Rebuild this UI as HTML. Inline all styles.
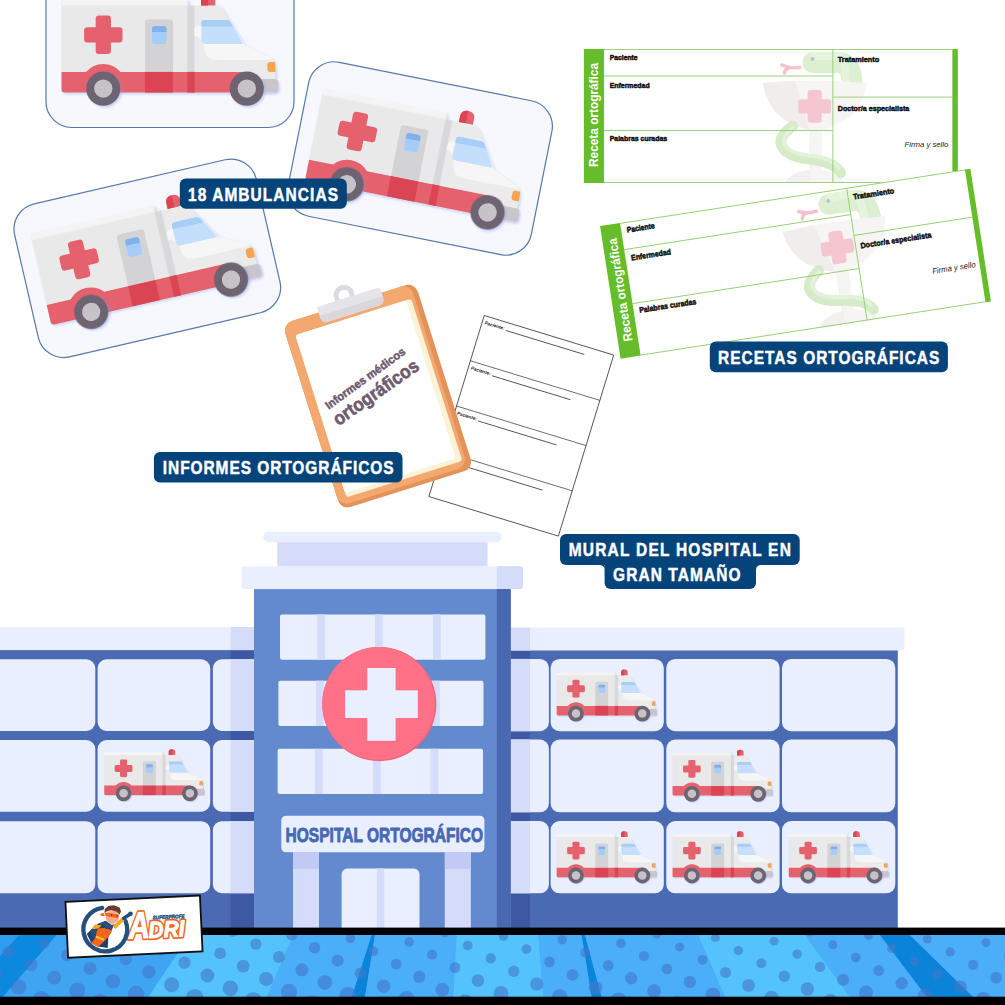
<!DOCTYPE html>
<html lang="es">
<head>
<meta charset="utf-8">
<title>Hospital Ortográfico</title>
<style>
html,body{margin:0;padding:0;background:#fff;}
body{width:1005px;height:1005px;overflow:hidden;font-family:"Liberation Sans",sans-serif;}
svg{display:block;}
.lbl{font-family:"Liberation Sans",sans-serif;font-weight:bold;fill:#fff;stroke:#fff;stroke-width:.45px;}
.rt{font-family:"Liberation Sans",sans-serif;font-weight:bold;fill:#111;font-size:7.8px;stroke:#111;stroke-width:.5px;stroke-linejoin:round;}
</style>
</head>
<body>
<svg width="1005" height="1005" viewBox="0 0 1005 1005">
<defs>
<filter id="sh" x="-10%" y="-10%" width="125%" height="125%">
  <feDropShadow dx="1.6" dy="1.6" stdDeviation="0.9" flood-color="#8a9be6" flood-opacity=".45"/>
</filter>
<!-- AMBULANCE (origin = card centre) -->
<g id="amb">
  <g filter="url(#sh)">
  <rect x="-108.5" y="-50" width="127" height="93.5" rx="3" fill="#e9e9e9"/>
  <path d="M-108.5,-43.5V-47a3,3 0 0 1 3,-3H14.4a3,3 0 0 1 3,3v3.5z" fill="#f4f4f4"/>
  <rect x="17.4" y="-43.5" width="7.2" height="87" fill="#d8d8da"/>
  <path d="M24.4,-43.5H46.5Q50.5,-43.5 52.5,-40L74.5,-4.4 99,7.5Q105.2,10.5 105.2,17V43.5H24.4z" fill="#ebebeb"/>
  <path d="M86,29.9H104.500a3.500,3.500 0 0 1 3.500,3.500V40a3.500,3.500 0 0 1 -3.500,3.500H86z" fill="#c9c5ca"/>
  </g>
  <path d="M24.4,-19Q24.4,-23 28.4,-23H62L74.5,-4.4 99,7.5Q102.5,9 103.6,10.9H47Q36,10.9 34.6,1Q33.5,-12 24.4,-13.5z" fill="#f6f6f6"/>
  <path d="M34.4,-29H56.5Q59.2,-29 60.6,-26.6L73.1,-5H35.4Q31.4,-5 31.4,-9V-26Q31.4,-29 34.4,-29z" fill="#c3dffc"/>
  <path d="M34.4,-29H56.5Q59.2,-29 60.6,-26.6L63,-22.5H31.4V-26Q31.4,-29 34.4,-29z" fill="#a8cdf6"/>
  <path d="M31,-43.5V-50a6,6 0 0 1 6,-6h2.3a6,6 0 0 1 6,6v6.5z" fill="#e5616d"/>
  <path d="M31,-43.5V-50a6,6 0 0 1 6,-6h1.1v12.5z" fill="#da4453"/>
  <!-- stripe -->
  <path d="M-108.5,22.9H-84a23,23 0 0 1 34.6,0H78V43.5H-105.5a3,3 0 0 1 -3,-3z" fill="#e5616d"/>
  <!-- door -->
  <path d="M-25,22.9V-26.5a3,3 0 0 1 3,-3H0a3,3 0 0 1 3,3V22.9z" fill="#d3d3d6"/>
  <rect x="-25" y="22.9" width="28" height="20.6" fill="#da4453"/>
  <rect x="17.4" y="22.9" width="7.2" height="20.6" fill="#da4453"/>
  <rect x="-18" y="-23" width="14.5" height="18" rx="3" fill="#a6ccf9"/>
  <path d="M-18,-17V-20a3,3 0 0 1 3,-3h8.5a3,3 0 0 1 3,3v3z" fill="#82b1ea"/>
  <!-- cross -->
  <rect x="-85.9" y="-21.85" width="38.4" height="15.3" rx="3.2" fill="#e5616d"/>
  <rect x="-74.35" y="-33.4" width="15.3" height="38.4" rx="3.2" fill="#e5616d"/>
  <!-- headlight -->
  <path d="M100.4,12.9H104.6Q105.2,14.5 105.2,17V22.9H100.4a3,3 0 0 1 -3,-3v-4a3,3 0 0 1 3,-3z" fill="#f9a44c"/>
  <!-- wheels -->
  <g filter="url(#sh)">
  <circle cx="-66.7" cy="39.6" r="17.1" fill="#6e6470"/>
  <circle cx="76.8" cy="39.6" r="17.1" fill="#6e6470"/>
  </g>
  <circle cx="-66.7" cy="39.6" r="9.2" fill="#c6c2c7"/>
  <circle cx="76.8" cy="39.6" r="9.2" fill="#c6c2c7"/>
</g>
<g id="card">
  <rect x="-124" y="-78.5" width="248" height="157" rx="26" fill="#f6f8fe" stroke="#5479ae" stroke-width="1.200"/>
  <use href="#amb"/>
</g>
<!-- RECETA (origin = centre, 374x134) -->
<g id="receta">
  <rect x="-187" y="-67" width="374" height="134" fill="#fff"/>
  <!-- watermark -->
  <g>
    <path d="M42,-53.6H66Q81,-53.6 81,-34" fill="none" stroke="#ddefd1" stroke-width="21" stroke-linecap="round"/>
    <path d="M44,-60H66Q75,-60 75,-34" fill="none" stroke="#e6f3dd" stroke-width="8" stroke-linecap="round"/>
    <path d="M29,-48.5Q20,-47 11,-51M19,-48.5Q14,-47 13.5,-43" fill="none" stroke="#f4c2cb" stroke-width="3.4" stroke-linecap="round"/>
    <circle cx="41.8" cy="-57" r="2" fill="#b9c0d8"/>
    <path d="M-8,-33Q-2,5 38.5,14V54Q20,56 14,67H74Q68,56 51,54V14Q90,5 96,-33Q44,-38 -8,-33z" fill="#f7f4f4"/>
    <path d="M-8,-33Q-2,5 38.5,14L24,-35Q8,-34.5 -8,-33z" fill="#f2eded"/>
    <path d="M38.5,14V54Q20,56 14,67H40z" fill="#f2eded" opacity=".6"/>
    <path d="M22,10Q5,22 12,32Q18,42 45,44Q64,47 70,57" fill="none" stroke="#d6ebc8" stroke-width="10.5" stroke-linecap="round"/>
    <path d="M22,12Q9,22 15,30Q20,38 45,40.500Q62,43 68,52" fill="none" stroke="#e3f2da" stroke-width="4" stroke-linecap="round"/>
    <rect x="27.4" y="-16.7" width="32.8" height="14.2" rx="3" fill="#f4c6cf"/>
    <rect x="36.7" y="-26" width="14.2" height="32.8" rx="3" fill="#f4c6cf"/>
  </g>
  <rect x="-187" y="-67" width="20.2" height="134" fill="#65bd29"/>
  <rect x="181.5" y="-67" width="5.5" height="134" fill="#65bd29"/>
  <g stroke="#8fcf6d" stroke-width=".9" fill="none">
    <path d="M-167,-66.5H181.500M-167,66.500H181.500M62,-67V67M-167,-40H62M-167,14.500H62M62,-18.900H181.500"/>
  </g>
  <text class="rt" x="-161.200" y="-56.400" textLength="28" lengthAdjust="spacingAndGlyphs">Paciente</text>
  <text class="rt" x="-161.200" y="-28.200" textLength="40" lengthAdjust="spacingAndGlyphs">Enfermedad</text>
  <text class="rt" x="-161.200" y="24.700" textLength="57.500" lengthAdjust="spacingAndGlyphs">Palabras curadas</text>
  <text class="rt" x="66.900" y="-54.400" textLength="41.500" lengthAdjust="spacingAndGlyphs">Tratamiento</text>
  <text class="rt" x="66.900" y="-5.100" textLength="71.500" lengthAdjust="spacingAndGlyphs">Doctor/a especialista</text>
  <text x="133.700" y="31" font-size="8" font-style="italic" fill="#222" font-family="Liberation Sans,sans-serif" textLength="43.800" lengthAdjust="spacingAndGlyphs">Firma y sello</text>
  <text transform="translate(-172.600,51) rotate(-90)" font-size="12.500" font-weight="bold" fill="#fff" font-family="Liberation Sans,sans-serif" textLength="104" lengthAdjust="spacingAndGlyphs">Receta ortográfica</text>
</g>
</defs>

<!-- ambulance cards -->
<use href="#card" transform="translate(170,49)"/>
<use href="#card" transform="translate(147.300,258.300) rotate(-13)"/>
<use href="#card" transform="translate(420,158.500) rotate(11.300)"/>

<!-- recetas -->
<use href="#receta" transform="translate(770.85,116)"/>
<use href="#receta" transform="translate(795.500,263.700) rotate(-8.800) scale(1.002)"/>

<!-- informes sheet -->
<g transform="translate(521.3,425.8) rotate(17)">
  <rect x="-67.700" y="-94.650" width="135.400" height="189.300" fill="#fff" stroke="#222" stroke-width=".7"/>
  <g stroke="#222" stroke-width=".6">
    <path d="M-67.700,-47.300H67.700M-67.700,0H67.700M-67.700,47.300H67.700"/>
    <path d="M-42.700,-86.650H39.300M-42.700,-39.300H39.300M-42.700,8H39.300M-42.700,55.300H39.300" stroke-width=".7"/>
  </g>
  <g font-size="4.600" font-style="italic" font-weight="bold" fill="#222" font-family="Liberation Sans,sans-serif">
    <text x="-65" y="-86.500">Paciente:</text>
    <text x="-65" y="-39.200">Paciente:</text>
    <text x="-65" y="8.100">Paciente:</text>
    <text x="-65" y="55.400">Paciente:</text>
  </g>
</g>

<!-- clipboard -->
<g transform="translate(378,396.200) rotate(-17.500)">
  <rect x="-69.500" y="-97.500" width="139" height="195" rx="10" fill="#e39259"/>
  <rect x="-69.500" y="-97.500" width="134" height="191" rx="10" fill="#f3a86f"/>
  <rect x="-60.500" y="-83" width="121.500" height="170" rx="3" fill="#fbf2d8"/>
  <rect x="-60.500" y="-83" width="116" height="165.500" rx="3" fill="#fff"/>
  <!-- clip -->
  <circle cx="-2" cy="-106.500" r="8" fill="none" stroke="#dcdade" stroke-width="5"/>
  <path d="M-31.500,-103.500H31.500a3,3 0 0 1 3,3V-92a6,6 0 0 1 -6,6H-25.500a6,6 0 0 1 -6,-6z" fill="#e6e4e8"/>
  <path d="M-31.500,-92a6,6 0 0 0 6,6H28.500a6,6 0 0 0 6,-6v-2H-31.500z" fill="#d9d6dc"/>
</g>
<g font-family="Liberation Sans,sans-serif" font-weight="bold" fill="#6d5b6e" stroke="#6d5b6e" stroke-linejoin="round" text-anchor="middle">
  <text transform="translate(367.500,381.500) rotate(-36)" font-size="11.500" stroke-width=".5" textLength="96" lengthAdjust="spacingAndGlyphs">Informes médicos</text>
  <text transform="translate(379.500,397.500) rotate(-35)" font-size="19" stroke-width=".6" textLength="100" lengthAdjust="spacingAndGlyphs">ortográficos</text>
</g>
<!-- ===== HOSPITAL ===== -->
<g>
  <!-- left wing -->
  <rect x="-10" y="650" width="265" height="279" fill="#4a6bb3"/>
  <rect x="230.600" y="650" width="24" height="279" fill="#3e59a4"/>
  <rect x="-10" y="627.100" width="264.600" height="23" fill="#e9efff"/>
  <rect x="230.600" y="627.100" width="24" height="23" fill="#d5dcfa"/>
  <g fill="#e9efff">
    <rect x="-20" y="659.300" width="115.300" height="71.600" rx="9"/>
    <rect x="-20" y="740.100" width="115.300" height="71.600" rx="9"/>
    <rect x="-20" y="821.200" width="115.300" height="72" rx="9"/>
    <rect x="97.600" y="659.300" width="112.600" height="71.600" rx="9"/>
    <rect x="97.600" y="740.100" width="112.600" height="71.600" rx="9"/>
    <rect x="97.600" y="821.200" width="112.600" height="72" rx="9"/>
    <path d="M260,659.300H221.900a9,9 0 0 0 -9,9V721.900a9,9 0 0 0 9,9H260z"/>
    <path d="M260,740.100H221.900a9,9 0 0 0 -9,9V802.700a9,9 0 0 0 9,9H260z"/>
    <path d="M260,821.200H221.900a9,9 0 0 0 -9,9V884.200a9,9 0 0 0 9,9H260z"/>
  </g>
  <g fill="#d5dcfa">
    <rect x="230.600" y="659.300" width="24" height="71.600"/>
    <rect x="230.600" y="740.100" width="24" height="71.600"/>
    <rect x="230.600" y="821.200" width="24" height="72"/>
  </g>
  <!-- right wing -->
  <rect x="505" y="650" width="392.800" height="279" fill="#4a6bb3"/>
  <rect x="505" y="650" width="25" height="279" fill="#3e59a4"/>
  <path d="M505,627.600H901.500a3,3 0 0 1 3,3V647.500a3,3 0 0 1 -3,3H505z" fill="#e9efff"/>
  <rect x="505" y="627.600" width="25" height="22.900" fill="#d5dcfa"/>
  <g fill="#e9efff">
    <path d="M505,658.900H539.900a9,9 0 0 1 9,9V722.200a9,9 0 0 1 -9,9H505z"/>
    <path d="M505,739.500H539.900a9,9 0 0 1 9,9V803.300a9,9 0 0 1 -9,9H505z"/>
    <path d="M505,821H539.900a9,9 0 0 1 9,9V884.300a9,9 0 0 1 -9,9H505z"/>
    <rect x="550.600" y="658.900" width="113.200" height="72.300" rx="9"/>
    <rect x="666.300" y="658.900" width="113.300" height="72.300" rx="9"/>
    <rect x="782" y="658.900" width="113.300" height="72.300" rx="9"/>
    <rect x="550.600" y="739.500" width="113.200" height="72.800" rx="9"/>
    <rect x="666.300" y="739.500" width="113.300" height="72.800" rx="9"/>
    <rect x="782" y="739.500" width="113.300" height="72.800" rx="9"/>
    <rect x="550.600" y="821" width="113.200" height="72.300" rx="9"/>
    <rect x="666.300" y="821" width="113.300" height="72.300" rx="9"/>
    <rect x="782" y="821" width="113.300" height="72.300" rx="9"/>
  </g>
  <g fill="#d5dcfa">
    <rect x="505" y="658.900" width="25" height="72.300"/>
    <rect x="505" y="739.500" width="25" height="72.800"/>
    <rect x="505" y="821" width="25" height="72.300"/>
  </g>
  <!-- mural ambulances -->
  <use href="#amb" transform="translate(154.400,775) scale(.462)"/>
  <use href="#amb" transform="translate(606.800,695.300) scale(.462)"/>
  <use href="#amb" transform="translate(722.700,775.500) scale(.462)"/>
  <use href="#amb" transform="translate(606.800,857.200) scale(.462)"/>
  <use href="#amb" transform="translate(722.700,857.200) scale(.462)"/>
  <use href="#amb" transform="translate(838.900,857.200) scale(.462)"/>

  <!-- tower top -->
  <rect x="263.300" y="531.700" width="238.100" height="10.500" rx="5" fill="#e9efff"/>
  <rect x="277.200" y="542.200" width="210.400" height="24.500" fill="#d5dcfa"/>
  <rect x="241.700" y="566.300" width="281.300" height="22.800" rx="3" fill="#e9efff"/>
  <path d="M496.800,566.300H520a3,3 0 0 1 3,3V586.100a3,3 0 0 1 -3,3H496.800z" fill="#d5dcfa"/>
  <!-- tower body -->
  <rect x="254" y="589.100" width="256.700" height="340" fill="#6389ce"/>
  <rect x="496.800" y="589.100" width="13.900" height="340" fill="#4868b2"/>
  <!-- windows -->
  <rect x="280" y="614.400" width="205.400" height="45.300" rx="2" fill="#e9efff"/>
  <rect x="278.400" y="680.700" width="205.100" height="45.300" rx="2" fill="#e9efff"/>
  <rect x="277.600" y="748.800" width="205.400" height="45.200" rx="2" fill="#e9efff"/>
  <g fill="#d5dcfa">
    <rect x="317.300" y="614.400" width="7.700" height="45.300"/><rect x="375" y="614.400" width="7.700" height="45.300"/><rect x="433" y="614.400" width="7.700" height="45.300"/>
    <rect x="316" y="680.700" width="7.700" height="45.300"/><rect x="374" y="680.700" width="7.700" height="45.300"/><rect x="432" y="680.700" width="7.700" height="45.300"/>
    <rect x="315" y="748.800" width="7.700" height="45.200"/><rect x="373" y="748.800" width="7.700" height="45.200"/><rect x="430.700" y="748.800" width="7.700" height="45.200"/>
  </g>
  <!-- red cross circle -->
  <circle cx="379.300" cy="704.100" r="57.100" fill="#f4647c"/>
  <circle cx="378.600" cy="703.400" r="56.300" fill="#ff7186"/>
  <rect x="367.300" y="668" width="28.300" height="72.800" fill="#e9efff"/>
  <rect x="345" y="690.300" width="72.800" height="27.700" fill="#e9efff"/>
  <!-- sign -->
  <rect x="281.300" y="815.700" width="203.100" height="36.600" rx="4.500" fill="#e9efff"/>
  <text x="285.600" y="842" font-family="Liberation Sans,sans-serif" font-weight="bold" font-size="20" fill="#4868b2" stroke="#4868b2" stroke-width=".85" stroke-linejoin="round" textLength="197.400" lengthAdjust="spacingAndGlyphs">HOSPITAL ORTOGRÁFICO</text>
  <!-- pillars -->
  <rect x="293" y="852.300" width="26" height="77" fill="#d5dcfa"/>
  <rect x="293" y="852.300" width="26" height="16.700" fill="#c0caf5"/>
  <rect x="444.800" y="852.300" width="26" height="77" fill="#d5dcfa"/>
  <rect x="444.800" y="852.300" width="26" height="16.700" fill="#c0caf5"/>
  <!-- door -->
  <path d="M341.600,929V874.500a6,6 0 0 1 6,-6H413.500a6,6 0 0 1 6,6V929z" fill="#e9efff"/>
  <rect x="376.800" y="868.500" width="7.500" height="61" fill="#d5dcfa"/>
</g>

<!-- ===== COMIC STRIP ===== -->
<defs>
  <clipPath id="stripclip"><rect x="0" y="934" width="1005" height="64"/></clipPath>
</defs>
<g clip-path="url(#stripclip)">
  <rect x="0" y="930" width="1005" height="70" fill="#4aaef8"/>
  <!-- rays -->
  <polygon points="0,930 19,930 19,935 0,955.900" fill="#2f9dee"/>
  <polygon points="19,935 56.700,935 3,997 0,997 0,955.900" fill="#0b89de"/>
  <polygon points="56.700,935 190,935 148.300,997 3,997" fill="#3fa5f3"/>
  <polygon points="190,935 293.300,935 266.700,997 148.300,997" fill="#54c3fd"/>
  <polygon points="293.300,935 371.700,935 351.700,997 266.700,997" fill="#4aaef8"/>
  <polygon points="371.700,935 375,935 365,997 351.700,997" fill="#0a84d9"/>
  <polygon points="375,935 456.700,935 453.300,997 365,997" fill="#4aaef8"/>
  <polygon points="456.700,935 538.300,935 543.300,997 453.300,997" fill="#54c3fd"/>
  <polygon points="538.300,935 581.700,935 591.700,997 543.300,997" fill="#4aaef8"/>
  <polygon points="581.700,935 585,935 601.700,997 591.700,997" fill="#0a84d9"/>
  <polygon points="585,935 698.300,935 725,997 601.700,997" fill="#4aaef8"/>
  <polygon points="698.300,935 805,935 850,997 725,997" fill="#54c3fd"/>
  <polygon points="805,935 880,935 926.700,997 850,997" fill="#4aaef8"/>
  <polygon points="880,935 910,935 973.300,997 926.700,997" fill="#0a84d9"/>
  <polygon points="910,935 1005,935 1005,997 973.300,997" fill="#4aaef8"/>
  <g fill="#4376c9" fill-opacity=".6"><circle cx="21.1" cy="929.9" r="5.6"/><circle cx="8.3" cy="952.0" r="5.8"/><circle cx="-4.4" cy="974.1" r="6.8"/><circle cx="44.1" cy="942.7" r="5.6"/><circle cx="31.3" cy="964.8" r="6.3"/><circle cx="18.6" cy="986.9" r="7.7"/><circle cx="79.8" cy="933.5" r="5.6"/><circle cx="67.0" cy="955.5" r="5.9"/><circle cx="54.3" cy="977.6" r="7.0"/><circle cx="41.5" cy="999.8" r="8.9"/><circle cx="102.8" cy="946.3" r="5.7"/><circle cx="90.0" cy="968.4" r="6.5"/><circle cx="77.3" cy="990.5" r="8.0"/><circle cx="138.5" cy="937.0" r="5.6"/><circle cx="125.8" cy="959.1" r="6.1"/><circle cx="113.0" cy="981.2" r="7.3"/><circle cx="100.3" cy="1003.3" r="9.2"/><circle cx="174.2" cy="927.7" r="5.6"/><circle cx="161.5" cy="949.8" r="5.8"/><circle cx="148.7" cy="971.9" r="6.7"/><circle cx="136.0" cy="994.0" r="8.3"/><circle cx="197.2" cy="940.6" r="5.6"/><circle cx="184.5" cy="962.7" r="6.2"/><circle cx="171.7" cy="984.8" r="7.5"/><circle cx="232.9" cy="931.3" r="5.6"/><circle cx="220.2" cy="953.4" r="5.9"/><circle cx="207.4" cy="975.5" r="6.9"/><circle cx="194.7" cy="997.6" r="8.7"/><circle cx="255.9" cy="944.1" r="5.7"/><circle cx="243.2" cy="966.2" r="6.4"/><circle cx="230.4" cy="988.3" r="7.8"/><circle cx="291.7" cy="934.9" r="5.6"/><circle cx="278.9" cy="957.0" r="6.0"/><circle cx="266.2" cy="979.1" r="7.1"/><circle cx="253.4" cy="1001.2" r="9.0"/><circle cx="314.6" cy="947.7" r="5.7"/><circle cx="301.9" cy="969.8" r="6.5"/><circle cx="289.1" cy="991.9" r="8.1"/><circle cx="350.4" cy="938.4" r="4.7"/><circle cx="337.6" cy="960.5" r="6.1"/><circle cx="324.9" cy="982.6" r="7.4"/><circle cx="312.1" cy="1004.7" r="9.4"/><circle cx="386.1" cy="929.1" r="4.7"/><circle cx="373.4" cy="951.2" r="4.9"/><circle cx="360.6" cy="973.3" r="5.8"/><circle cx="347.9" cy="995.4" r="8.5"/><circle cx="409.1" cy="942.0" r="4.7"/><circle cx="396.3" cy="964.1" r="5.4"/><circle cx="383.6" cy="986.2" r="6.7"/><circle cx="444.8" cy="932.7" r="4.7"/><circle cx="432.1" cy="954.8" r="5.0"/><circle cx="419.3" cy="976.9" r="6.1"/><circle cx="406.6" cy="999.0" r="7.9"/><circle cx="467.8" cy="945.5" r="4.8"/><circle cx="455.0" cy="967.6" r="5.5"/><circle cx="442.3" cy="989.7" r="7.0"/><circle cx="503.5" cy="936.3" r="4.7"/><circle cx="490.8" cy="958.4" r="5.1"/><circle cx="478.0" cy="980.5" r="6.3"/><circle cx="465.3" cy="1002.6" r="8.3"/><circle cx="539.2" cy="927.0" r="4.7"/><circle cx="526.5" cy="949.1" r="4.9"/><circle cx="513.8" cy="971.2" r="5.7"/><circle cx="501.0" cy="993.3" r="7.4"/><circle cx="562.2" cy="939.8" r="4.7"/><circle cx="549.5" cy="961.9" r="5.3"/><circle cx="536.7" cy="984.0" r="6.6"/><circle cx="598.0" cy="930.6" r="4.7"/><circle cx="585.2" cy="952.7" r="4.9"/><circle cx="572.5" cy="974.8" r="5.9"/><circle cx="559.7" cy="996.9" r="7.7"/><circle cx="620.9" cy="943.4" r="4.8"/><circle cx="608.2" cy="965.5" r="5.4"/><circle cx="595.4" cy="987.6" r="6.9"/><circle cx="656.7" cy="934.1" r="4.4"/><circle cx="643.9" cy="956.2" r="5.1"/><circle cx="631.2" cy="978.3" r="6.2"/><circle cx="618.4" cy="1000.4" r="8.0"/><circle cx="679.6" cy="946.9" r="4.5"/><circle cx="666.9" cy="969.0" r="5.3"/><circle cx="654.1" cy="991.1" r="6.9"/><circle cx="715.4" cy="937.7" r="4.4"/><circle cx="702.6" cy="959.8" r="4.9"/><circle cx="689.9" cy="981.9" r="6.1"/><circle cx="677.1" cy="1004.0" r="8.1"/><circle cx="751.1" cy="928.4" r="4.4"/><circle cx="738.4" cy="950.5" r="4.6"/><circle cx="725.6" cy="972.6" r="5.5"/><circle cx="712.9" cy="994.7" r="7.2"/><circle cx="774.1" cy="941.2" r="4.4"/><circle cx="761.3" cy="963.3" r="5.0"/><circle cx="748.6" cy="985.4" r="6.4"/><circle cx="809.8" cy="932.0" r="4.4"/><circle cx="797.1" cy="954.1" r="4.7"/><circle cx="784.3" cy="976.2" r="5.7"/><circle cx="771.6" cy="998.3" r="7.5"/><circle cx="832.8" cy="944.8" r="4.5"/><circle cx="820.0" cy="966.9" r="5.2"/><circle cx="807.3" cy="989.0" r="6.7"/><circle cx="868.5" cy="935.5" r="4.4"/><circle cx="855.8" cy="957.6" r="4.8"/><circle cx="843.0" cy="979.7" r="6.0"/><circle cx="830.3" cy="1001.8" r="7.9"/><circle cx="904.3" cy="926.3" r="4.4"/><circle cx="891.5" cy="948.4" r="4.5"/><circle cx="878.8" cy="970.5" r="5.4"/><circle cx="866.0" cy="992.6" r="7.0"/><circle cx="927.2" cy="939.1" r="4.4"/><circle cx="914.5" cy="961.2" r="4.9"/><circle cx="901.7" cy="983.3" r="6.2"/><circle cx="889.0" cy="1005.4" r="8.3"/><circle cx="963.0" cy="929.8" r="4.4"/><circle cx="950.2" cy="951.9" r="4.6"/><circle cx="937.5" cy="974.0" r="5.6"/><circle cx="924.7" cy="996.1" r="7.3"/><circle cx="986.0" cy="942.7" r="4.4"/><circle cx="973.2" cy="964.8" r="5.1"/><circle cx="960.5" cy="986.9" r="6.5"/><circle cx="1008.9" cy="955.5" r="4.7"/><circle cx="996.2" cy="977.6" r="5.8"/><circle cx="983.4" cy="999.7" r="7.7"/></g>
</g>
<rect x="0" y="927.600" width="1005" height="7.400" fill="#000"/>
<rect x="0" y="996.700" width="1005" height="8.300" fill="#000"/>

<!-- ===== LOGO BADGE ===== -->
<g transform="translate(134,926.600) rotate(-2.700)">
  <rect x="-67.300" y="-28" width="134.600" height="56" fill="#fff" stroke="#111" stroke-width="1.800"/>
  <!-- ADRI -->
  <g font-family="Liberation Sans,sans-serif" font-weight="bold" font-style="italic" stroke-linejoin="round">
    <g fill="#f26522" stroke="#f26522" stroke-width="4.400">
      <text x="-5.500" y="12" font-size="37.500" textLength="21" lengthAdjust="spacingAndGlyphs">A</text>
      <text x="14.300" y="12" font-size="23" textLength="36" lengthAdjust="spacingAndGlyphs">DRI</text>
    </g>
    <g fill="#fff" stroke="#fff" stroke-width="1">
      <text x="-5.500" y="12" font-size="37.500" textLength="21" lengthAdjust="spacingAndGlyphs">A</text>
      <text x="14.300" y="12" font-size="23" textLength="36" lengthAdjust="spacingAndGlyphs">DRI</text>
    </g>
  </g>
  <text x="19" y="-6.200" font-family="Liberation Sans,sans-serif" font-weight="bold" font-style="italic" font-size="5.400" fill="#2b4f7e" stroke="#2b4f7e" stroke-width=".45" textLength="32" lengthAdjust="spacingAndGlyphs">SUPERPROFE</text>
</g>
<!-- hero (absolute coords) -->
<g>
  <path d="M102.2,907.8A21.9,21.9 0 1 0 125.6,921.3" fill="none" stroke="#24507f" stroke-width="4.300" stroke-linecap="round"/>
  <polygon points="86.8,934.0 91.7,929.1 97.3,924.3 105.6,920.8 112.6,925.6 111.2,932.6 108.4,936.8 107.7,947.9 98.0,946.5 91.4,943.1" fill="#263f66"/>
  <polygon points="98.0,928.4 105.6,927.7 111.9,930.5 108.4,936.8 102.9,942.4 98.0,946.9 91.4,943.1 95.9,936.8 96.6,931.2" fill="#f4661b"/>
  <polygon points="97.3,923.9 105.6,920.9 111.2,925.0 114.4,924.3 111.9,929.8 108.8,927.7 105.6,929.8 105.0,925.6" fill="#24507f"/>
  <polygon points="92.1,928.1 95.2,924.3 101.8,925.6 98.3,928.4 93.1,929.3" fill="#f5a623"/>
  <polygon points="91.7,929.1 96.2,929.8 95.5,936.8 92.4,937.6 90.9,934.0" fill="#24507f"/>
  <polygon points="96.2,935.6 104.6,938.9 103.7,940.8 95.4,937.5" fill="#fbc52d"/>
  <path d="M114.0,927.7L123.8,918.3" stroke="#f5a623" stroke-width="3.9" stroke-linecap="butt" fill="none"/>
  <path d="M123.8,918.3L130.0,914.2" stroke="#24507f" stroke-width="3.6" stroke-linecap="round" fill="none"/>
  <circle cx="130.5" cy="913.7" r="2.3" fill="#24507f"/>
  <ellipse cx="112.3" cy="916.9" rx="6.6" ry="7.0" fill="#f9aa8c"/>
  <polygon points="104.6,912.8 104.8,908.9 108.4,906.1 114.0,905.3 119.6,907.5 121.1,911.7 119.4,914.4 116.8,911.7 111.2,910.0 107.7,910.9" fill="#6b3a2a"/>
  <polygon points="104.3,912.4 118.9,914.6 117.8,918.3 105.6,916.0" fill="#f4661b"/>
  <polygon points="99.9,913.9 103.6,912.8 104.8,915.9 101.5,916.0" fill="#f4661b"/>
  <circle cx="111.6" cy="915.0" r=".75" fill="#333"/><circle cx="117.1" cy="915.9" r=".75" fill="#333"/>
</g>
<!-- ===== LABELS ===== -->
<g>
  <rect x="179.800" y="178.500" width="167" height="30.300" rx="6" fill="#05437b"/>
  <text class="lbl" transform="translate(188.0,200.6) scale(0.86,1)" font-size="18" textLength="174.4" lengthAdjust="spacing">18 AMBULANCIAS</text>

  <rect x="709.800" y="341.600" width="238.100" height="30.600" rx="6" fill="#05437b"/>
  <text class="lbl" transform="translate(718.1,363.6) scale(0.86,1)" font-size="18" textLength="257.2" lengthAdjust="spacing">RECETAS ORTOGRÁFICAS</text>

  <rect x="153.900" y="452" width="248.600" height="30.400" rx="6" fill="#05437b"/>
  <text class="lbl" transform="translate(162.8,474.0) scale(0.86,1)" font-size="18" textLength="268.3" lengthAdjust="spacing">INFORMES ORTOGRÁFICOS</text>

  <rect x="560" y="533.900" width="239.700" height="31" rx="6" fill="#05437b"/>
  <rect x="604.600" y="555" width="151.400" height="34.100" rx="6" fill="#05437b"/>
  <path d="M604.600,564.900h-5a5,5 0 0 1 5,5zM756,564.900h5a5,5 0 0 0 -5,5z" fill="#05437b"/>
  <text class="lbl" transform="translate(568.7,556.2) scale(0.86,1)" font-size="18" textLength="258.3" lengthAdjust="spacing">MURAL DEL HOSPITAL EN</text>
  <text class="lbl" transform="translate(613.0,581.3) scale(0.86,1)" font-size="18" textLength="148.4" lengthAdjust="spacing">GRAN TAMAÑO</text>
</g>

</svg>
</body>
</html>
